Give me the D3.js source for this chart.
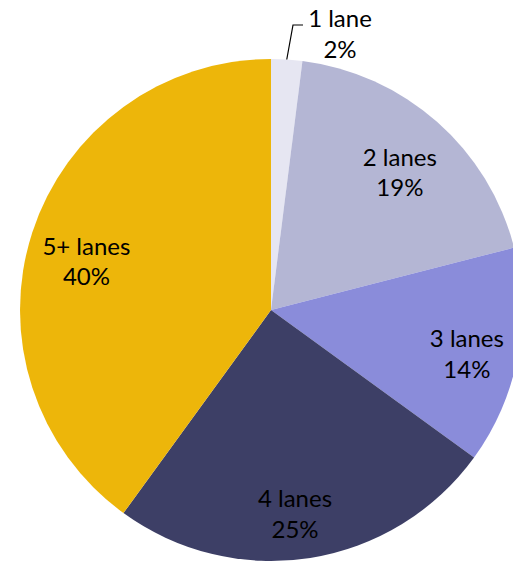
<!DOCTYPE html>
<html>
<head>
<meta charset="utf-8">
<script src="https://cdn.jsdelivr.net/npm/d3@7"></script>
<style>
  html, body { margin: 0; padding: 0; background: #fff; }
  svg { display: block; }
  text { font-family: Lato, "Open Sans", sans-serif; font-size: 24px; fill: #000; }
</style>
</head>
<body>
<svg id="chart" width="513" height="564"></svg>
<script>
// Share of road segments by number of lanes
const categories = ["1 lane", "2 lanes", "3 lanes", "4 lanes", "5+ lanes"];
const shares = [2, 19, 14, 25, 40];
const colors = ["#e6e6f2", "#b4b6d4", "#8a8cda", "#3d3f66", "#edb60a"];

const width = 513, height = 564;
const cx = 271, cy = 310, radius = 251;

const svg = d3.select("#chart");
const g = svg.append("g").attr("transform", `translate(${cx},${cy})`);

const pie = d3.pie().sort(null).value(d => d.value);
const arcs = pie(categories.map((c, i) => ({ name: c, value: shares[i] })));

const arc = d3.arc().innerRadius(0).outerRadius(radius);

g.selectAll("path.slice")
  .data(arcs)
  .join("path")
  .attr("class", "slice")
  .attr("d", arc)
  .attr("fill", (d, i) => colors[i]);

// Label placement: distance from centre (fraction of radius) and angular nudge (degrees)
const labelFactor = [1.0, 0.75, 0.80, 0.82, 0.76];
const labelNudge = [0, 1.8, 1.9, 2.3, -3.4];
const lineGap = 30.5;

arcs.forEach((d, i) => {
  let x, y;
  if (i === 0) {
    // small slice: label sits outside with a leader line
    x = 69; y = -276;
    const a = (d.startAngle + d.endAngle) / 2;
    const p0 = [Math.sin(a) * radius, -Math.cos(a) * radius];
    g.append("polyline")
      .attr("points", `${p0[0]},${p0[1]} 22,-285 32,-285`)
      .attr("fill", "none")
      .attr("stroke", "#000")
      .attr("stroke-width", 1.2);
  } else {
    const r = radius * labelFactor[i];
    const a = (d.startAngle + d.endAngle) / 2 + labelNudge[i] * Math.PI / 180;
    x = Math.sin(a) * r;
    y = -Math.cos(a) * r;
  }
  const t = g.append("text").attr("text-anchor", "middle");
  t.append("tspan").attr("x", x).attr("y", y - 7).text(d.data.name);
  t.append("tspan").attr("x", x).attr("y", y - 7 + lineGap).text(d.data.value + "%");
});
</script>
</body>
</html>
